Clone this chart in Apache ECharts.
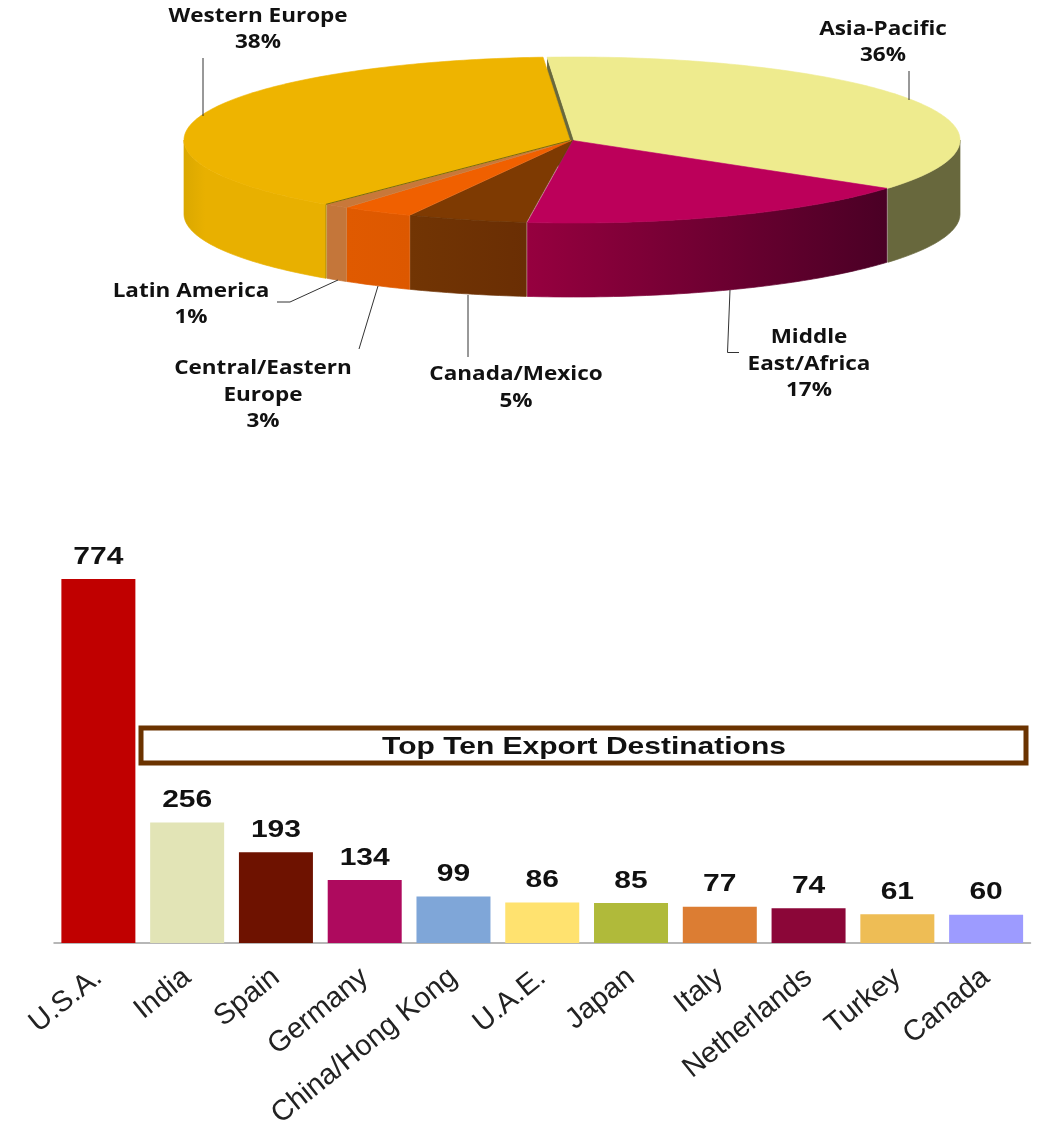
<!DOCTYPE html>
<html>
<head>
<meta charset="utf-8">
<style>html,body{margin:0;padding:0;background:#fff}#c{width:1040px;height:1128px}</style>
<script src="https://cdn.jsdelivr.net/npm/echarts@6/dist/echarts.min.js"></script>
</head>
<body>
<div id="c"></div>
<script>
// ---- data ----
const regionNames = ['Asia-Pacific','Middle\nEast/Africa','Canada/Mexico','Central/Eastern\nEurope','Latin America','Western Europe'];
const regionShares = [36,17,5,3,1,38];
const destinations = ['U.S.A.','India','Spain','Germany','China/Hong Kong','U.A.E.','Japan','Italy','Netherlands','Turkey','Canada'];
const destinationValues = [774,256,193,134,99,86,85,77,74,61,60];
const chartTitle = 'Top Ten Export Destinations';

// ---- styles and layout ----
const topColors = ['#EEEB8E','#BC005A','#7E3A02','#F06000','#C8783A','#EEB400'];
const topStrokes = ['#EEEB8E','#BC005A','#6A3204','#F06000','#C8783A','#EEB400'];
const wallColors = [['#68683D','#68683D'],['#4A0025','#96003F'],['#6A2E04','#723504'],['#DD5800','#E05A00'],['#C4763A','#C4763A'],['#DAA800','#E8B000']];
const barColors = ['#C00000','#E2E4B6','#6E1200','#AE0A5E','#7FA6D8','#FFE26F','#B0BA3A','#DC7D33','#8B0638','#EEBD55','#9D9BFF'];
const sliceCx = [574,573,572,571.5,571,570];
const pieCy = 140, pieRx = 386, pieRy = 83, pieDepth = 74, pieStart = -4;
const labelCenters = [[883,42.5],[809,364],[516,388],[263,395],[191,304.5],[258,29.5]];
const leaderPaths = [
  [[909,71],[909,100]],
  [[730,290],[727.5,352.5],[739,352.5]],
  [[468,295],[468,357]],
  [[378,286],[359,349]],
  [[338,280],[290,302],[277,302]],
  [[203,58],[203,116]]
];
const RAD = Math.PI/180;
function sliceRange(i){
  let before = 0;
  for (let k=0;k<i;k++) before += regionShares[k];
  return [pieStart+before*3.6, pieStart+(before+regionShares[i])*3.6];
}
function rim(cx,t,dy){ return [cx+pieRx*Math.sin(t*RAD), pieCy-pieRy*Math.cos(t*RAD)+(dy||0)]; }
function arc(cx,a,b,dy){
  const pts=[], n=Math.max(2,Math.ceil(Math.abs(b-a)));
  for(let k=0;k<=n;k++) pts.push(rim(cx,a+(b-a)*k/n,dy));
  return pts;
}
const pieRows = regionShares.map((v,i)=>[v,i]);

function wallGradient(i){
  const w=wallColors[i];
  const stops = i===5
    ? [{offset:0,color:w[0]},{offset:0.15,color:w[1]},{offset:1,color:w[1]}]
    : [{offset:0,color:w[1]},{offset:1,color:w[0]}];
  return new echarts.graphic.LinearGradient(0,0,1,0,stops);
}
function renderWall(params,api){
  const i=api.value(1), r=sliceRange(i), cx=sliceCx[i], kids=[];
  if(i===0){
    const e=rim(cx,r[0]);
    kids.push({type:'polygon',shape:{points:[[cx,pieCy],e,[e[0],e[1]+pieDepth],[cx,pieCy+pieDepth]]},style:{fill:wallColors[0][0]}});
  }
  const a=Math.max(r[0],90), b=Math.min(r[1],270);
  if(b>a){
    const pts=arc(cx,a,b,0).concat(arc(cx,b,a,pieDepth));
    kids.push({type:'polygon',shape:{points:pts},style:{stroke:wallGradient(i),lineWidth:0.7,fill:wallGradient(i)}});
  }
  return {type:'group',children:kids};
}
function renderTop(params,api){
  const i=api.value(1), r=sliceRange(i), cx=sliceCx[i], kids=[
    {type:'polygon',shape:{points:[[cx,pieCy+0.5]].concat(arc(cx,r[0],r[1],0))},
      style:{fill:topColors[i],stroke:topStrokes[i],lineWidth:0.6}}];
  if(i===5) kids.push(
    {type:'polyline',shape:{points:[[cx,pieCy+0.5],rim(cx,r[0])]},style:{fill:null,stroke:'#7A6A10',lineWidth:1}},
    {type:'line',shape:{x1:rim(cx,r[0])[0],y1:rim(cx,r[0])[1],x2:rim(cx,r[0])[0],y2:rim(cx,r[0],pieDepth)[1]},style:{stroke:'#9A7A10',lineWidth:0.8}});
  return {type:'group',children:kids};
}
function renderPieLabel(params,api){
  const i=api.value(1), c=labelCenters[i];
  return {type:'group',children:[
    {type:'polyline',shape:{points:leaderPaths[i]},style:{fill:null,stroke:'#333',lineWidth:1}},
    {type:'text',x:c[0],y:c[1],scaleX:1.125,style:{text:regionNames[i]+'\n'+api.value(0)+'%',
      font:'bold 20px "Open Sans"',lineHeight:26.5,fill:'#111',textAlign:'center',textVerticalAlign:'middle'}}
  ]};
}
function renderBarLabel(params,api){
  const p=api.coord([api.value(0),api.value(1)]);
  return {type:'text',x:p[0],y:p[1]-22,scaleX:1.25,style:{text:String(api.value(1)),
    font:'bold 24px "Liberation Sans"',fill:'#111',textAlign:'center',textVerticalAlign:'middle'}};
}
const chart = echarts.init(document.getElementById('c'),null,{renderer:'canvas'});
chart.setOption({
  animation:false,
  backgroundColor:'#fff',
  grid:{left:54,right:9.5,top:579,height:364,containLabel:false,outerBoundsMode:'none'},
  xAxis:{type:'category',data:destinations,
    axisLine:{lineStyle:{color:'#A0A0A0',width:1.5}},axisTick:{show:false},
    axisLabel:{rotate:39,interval:0,fontFamily:'Liberation Sans',fontSize:29,color:'#222',margin:31}},
  yAxis:{type:'value',min:0,max:774,show:false,splitLine:{show:false}},
  graphic:[
    {type:'rect',shape:{x:141,y:728,width:885,height:35},style:{fill:'#fff',stroke:'#6B3300',lineWidth:5},z:10},
    {type:'text',x:584,y:747,scaleX:1.25,style:{text:chartTitle,font:'bold 24px "Liberation Sans"',fill:'#111',textAlign:'center',textVerticalAlign:'middle'},z:11}
  ],
  series:[
    {type:'bar',barWidth:74,data:destinationValues.map((v,i)=>({value:v,itemStyle:{color:barColors[i]}}))},
    {type:'custom',coordinateSystem:'cartesian2d',data:destinationValues.map((v,i)=>[i,v]),renderItem:renderBarLabel,silent:true},
    {type:'custom',coordinateSystem:'none',data:pieRows,renderItem:renderWall,silent:true},
    {type:'custom',coordinateSystem:'none',data:pieRows,renderItem:renderTop,silent:true},
    {type:'custom',coordinateSystem:'none',data:pieRows,renderItem:renderPieLabel,silent:true}
  ]
});
</script>
</body>
</html>
